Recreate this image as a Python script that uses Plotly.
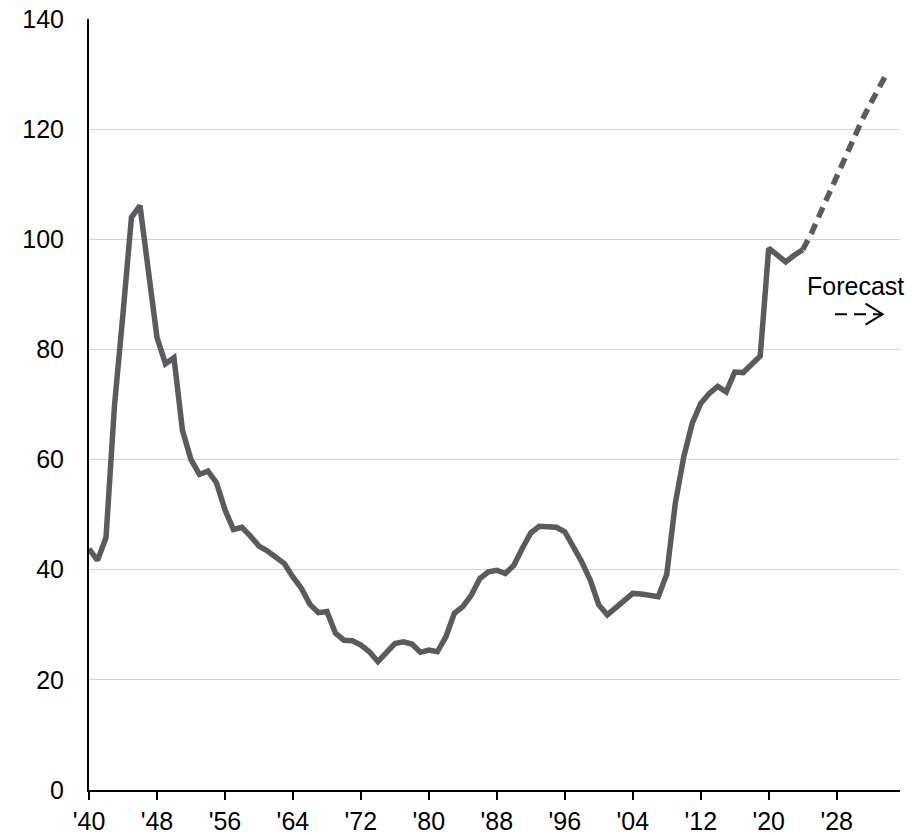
import plotly.graph_objects as go

# Historical series (share, %)
hist_years = list(range(1940, 2025))
hist_values = [
    43.8, 41.7, 45.8, 69.8, 86.5, 104.0, 106.1, 94.0, 82.2, 77.4,   # 1940-1949
    78.5, 65.3, 60.0, 57.3, 57.9, 55.8, 50.9, 47.3, 47.7, 46.1,     # 1950-1959
    44.3, 43.4, 42.2, 41.1, 38.7, 36.6, 33.7, 32.2, 32.4, 28.5,     # 1960-1969
    27.2, 27.1, 26.3, 25.1, 23.3, 24.8, 26.6, 26.9, 26.5, 25.0,     # 1970-1979
    25.4, 25.1, 27.8, 32.1, 33.3, 35.4, 38.4, 39.6, 39.9, 39.3,     # 1980-1989
    40.8, 43.9, 46.7, 47.9, 47.9, 47.7, 46.9, 44.3, 41.4, 38.1,     # 1990-1999
    33.6, 31.8, 33.0, 34.4, 35.7, 35.6, 35.4, 35.1, 39.2, 52.0,     # 2000-2009
    60.5, 66.6, 70.2, 72.0, 73.3, 72.3, 75.9, 75.8, 77.3, 78.8,     # 2010-2019
    98.4, 97.1, 95.9, 97.1, 98.1,                                   # 2020-2024
]

# Forecast series
fc_years = list(range(2024, 2035))
fc_values = [98.1, 101.0, 104.5, 108.0, 111.5, 115.0, 118.4, 121.7, 124.7, 127.6, 130.4]

tick_years = [1940, 1948, 1956, 1964, 1972, 1980, 1988, 1996, 2004, 2012, 2020, 2028]
tick_text = ["'40", "'48", "'56", "'64", "'72", "'80", "'88", "'96", "'04", "'12", "'20", "'28"]
y_ticks = [0, 20, 40, 60, 80, 100, 120, 140]

LINE = "#595b5e"
FONT = "Liberation Sans, Arial, sans-serif"

fig = go.Figure()
fig.add_trace(go.Scatter(x=hist_years, y=hist_values, mode="lines",
                         line=dict(color=LINE, width=5.5), hoverinfo="skip"))
fig.add_trace(go.Scatter(x=fc_years, y=fc_values, mode="lines",
                         line=dict(color=LINE, width=5.5, dash="11px,7px"), hoverinfo="skip"))

# Forecast label with dashed arrow
fig.add_annotation(x=2030.2, y=91.5, text="Forecast", showarrow=False,
                   font=dict(size=25, color="black", family=FONT))
fig.add_shape(type="line", x0=2027.8, y0=86.4, x1=2033.3, y1=86.4,
              line=dict(color="black", width=2, dash="12px,7px"))
fig.add_shape(type="path", path="M 2031.4,88.3 L 2033.4,86.4 L 2031.4,84.5",
              line=dict(color="black", width=2))

# page body adds an 8px offset, so the figure is 8px smaller
fig.update_layout(
    width=914, height=827,
    margin=dict(l=81, r=22, t=11, b=45),
    paper_bgcolor="white", plot_bgcolor="white",
    showlegend=False,
    font=dict(family=FONT, size=25, color="black"),
)
fig.update_xaxes(range=[1940, 2035.45], tickvals=tick_years, ticktext=tick_text,
                 showgrid=False, zeroline=False, automargin=False,
                 showline=True, linecolor="black", linewidth=2,
                 ticks="outside", ticklen=8, tickwidth=2, tickcolor="black",
                 ticklabeloverflow="allow",
                 tickfont=dict(size=25, color="black", family=FONT))
fig.update_yaxes(range=[0, 140], tickvals=y_ticks,
                 showgrid=True, gridcolor="#d3d3d3", gridwidth=1.3, zeroline=False,
                 automargin=False,
                 showline=True, linecolor="black", linewidth=2,
                 ticks="", ticklabelstandoff=18, ticklabeloverflow="allow",
                 tickfont=dict(size=25, color="black", family=FONT))

fig.write_html("out.html")
